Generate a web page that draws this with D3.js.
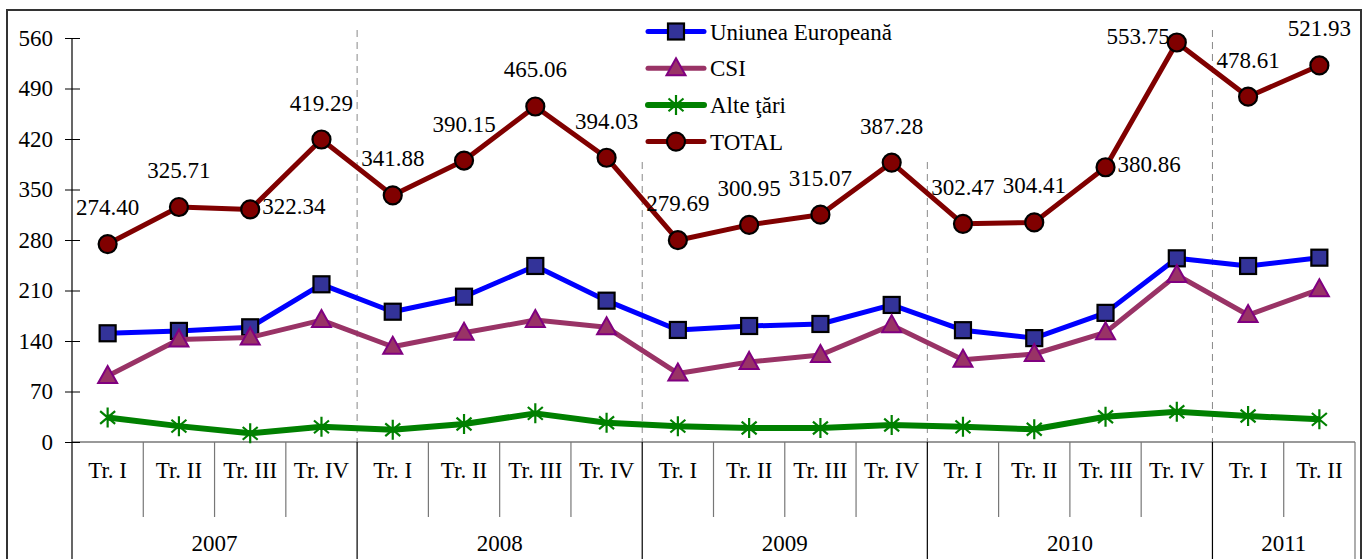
<!DOCTYPE html>
<html>
<head>
<meta charset="utf-8">
<script src="https://cdn.jsdelivr.net/npm/d3@7"></script>
<style>
  html, body { margin: 0; padding: 0; background: #fff; }
</style>
</head>
<body>
<div id="chart"></div>
<script>
const years    = ['2007', '2008', '2009', '2010', '2011'];
const quarters = ['Tr. I', 'Tr. II', 'Tr. III', 'Tr. IV'];
const periods  = [
  ['2007','Tr. I'],['2007','Tr. II'],['2007','Tr. III'],['2007','Tr. IV'],
  ['2008','Tr. I'],['2008','Tr. II'],['2008','Tr. III'],['2008','Tr. IV'],
  ['2009','Tr. I'],['2009','Tr. II'],['2009','Tr. III'],['2009','Tr. IV'],
  ['2010','Tr. I'],['2010','Tr. II'],['2010','Tr. III'],['2010','Tr. IV'],
  ['2011','Tr. I'],['2011','Tr. II']
];
const ue    = [150.7, 154, 159, 218.6, 180.6, 201.4, 244, 195.9, 155.3, 160.8, 163.6, 190, 155, 144, 179, 254.6, 244, 255.5];
const csi   = [91.5, 142, 145, 169, 132, 151.5, 169, 159, 95, 111, 120.6, 162, 114, 122, 152, 231.5, 176, 211.7];
const alte  = [34, 22, 12, 21, 17, 25, 39.7, 26.8, 22, 19.4, 19.4, 23.5, 21, 17.6, 35, 42, 36, 31.4];
const total = [274.40, 325.71, 322.34, 419.29, 341.88, 390.15, 465.06, 394.03, 279.69, 300.95, 315.07, 387.28, 302.47, 304.41, 380.86, 553.75, 478.61, 521.93];
// where each TOTAL label sits relative to its point
const totalLabelSide = ['up','up','right','up','up','up','up','up','up','up','up','up','up','up','right','left','up','up'];
const yTicks = [0, 70, 140, 210, 280, 350, 420, 490, 560];

const W = 1369, H = 559;
const plotL = 72, plotR = 1355, plotT = 38, zeroY = 442;
const fs = 23;
const FONT = '"Liberation Serif", "Times New Roman", serif';

const svg = d3.select('#chart').append('svg').attr('width', W).attr('height', H)
  .attr('font-family', FONT);

const keys = periods.map((p, i) => i);
const x = d3.scaleBand().domain(keys).range([plotL, plotR]);
const y = d3.scaleLinear().domain([0, 560]).range([zeroY, plotT]);
const cx = i => x(i) + x.bandwidth() / 2;

function txt(sel) {
  return sel.append('text').attr('font-family', FONT).attr('font-size', fs + 'px').attr('fill', '#000');
}

// outer frame
svg.append('rect').attr('x', 7).attr('y', 10).attr('width', 1354).attr('height', 600)
  .attr('fill', 'none').attr('stroke', '#333').attr('stroke-width', 2);

// year boundaries (dashed in plot area)
const yearStarts = years.map(yr => periods.findIndex(p => p[0] === yr));
yearStarts.slice(1).forEach(i => {
  svg.append('line').attr('x1', x(i)).attr('x2', x(i)).attr('y1', 30).attr('y2', zeroY)
    .attr('stroke', '#888').attr('stroke-width', 1).attr('stroke-dasharray', '7,5');
});

// legend background hides the grid behind it
svg.append('rect').attr('x', 638).attr('y', 13).attr('width', 298).attr('height', 145).attr('fill', '#fff');

// category table under the axis
svg.append('line').attr('x1', plotL).attr('x2', plotR).attr('y1', zeroY).attr('y2', zeroY)
  .attr('stroke', '#777').attr('stroke-width', 1.5);
periods.forEach((p, i) => {
  if (i === 0) return;
  const isYear = p[1] === 'Tr. I';
  svg.append('line').attr('x1', x(i)).attr('x2', x(i))
    .attr('y1', zeroY).attr('y2', isYear ? H : 517)
    .attr('stroke', isYear ? '#000' : '#777').attr('stroke-width', 1.2);
});
svg.append('line').attr('x1', plotR).attr('x2', plotR).attr('y1', zeroY).attr('y2', H)
  .attr('stroke', '#777').attr('stroke-width', 1.2);

periods.forEach((p, i) => {
  txt(svg).attr('x', cx(i)).attr('y', 478).attr('text-anchor', 'middle').text(p[1]);
});

years.forEach((yr, k) => {
  const s = yearStarts[k];
  const e = k < years.length - 1 ? yearStarts[k + 1] : periods.length;
  const x0 = x(s), x1 = e < periods.length ? x(e) : plotR;
  txt(svg).attr('x', (x0 + x1) / 2).attr('y', 551).attr('text-anchor', 'middle').text(yr);
});

// y axis
const yAxis = svg.append('g').attr('transform', `translate(${plotL},0)`)
  .call(d3.axisLeft(y).tickValues(yTicks).tickSize(7).tickPadding(12));
yAxis.attr('font-family', FONT);
yAxis.select('.domain').remove();
yAxis.selectAll('.tick line').attr('x2', 8).attr('x1', -7).attr('stroke', '#000');
yAxis.selectAll('.tick text').attr('font-size', fs + 'px')
  .attr('font-family', FONT).attr('fill', '#000');
svg.append('line').attr('x1', plotL).attr('x2', plotL).attr('y1', plotT).attr('y2', H)
  .attr('stroke', '#000').attr('stroke-width', 1.2);

// markers
function drawMarker(g, type, px, py) {
  if (type === 'square') {
    g.append('rect').attr('x', px - 8).attr('y', py - 8).attr('width', 16).attr('height', 16)
      .attr('fill', '#333399').attr('stroke', '#000').attr('stroke-width', 2.2);
  } else if (type === 'triangle') {
    g.append('path').attr('d', `M${px},${py - 10}L${px + 9.5},${py + 7}L${px - 9.5},${py + 7}Z`)
      .attr('fill', '#993366').attr('stroke', '#800080').attr('stroke-width', 2);
  } else if (type === 'star') {
    const r = 10, a = 7.5;
    g.append('path')
      .attr('d', `M${px},${py - r}L${px},${py + r}M${px - a},${py - a * 0.85}L${px + a},${py + a * 0.85}M${px - a},${py + a * 0.85}L${px + a},${py - a * 0.85}`)
      .attr('stroke', '#008000').attr('stroke-width', 2.2).attr('fill', 'none');
  } else {
    g.append('circle').attr('cx', px).attr('cy', py).attr('r', 9)
      .attr('fill', '#800000').attr('stroke', '#000').attr('stroke-width', 2.2);
  }
}

const series = [
  { name: 'Uniunea Europeană', values: ue,    color: '#0000ff', marker: 'square',   width: 5 },
  { name: 'CSI',               values: csi,   color: '#993366', marker: 'triangle', width: 5 },
  { name: 'Alte ţări',         values: alte,  color: '#008000', marker: 'star',     width: 6 },
  { name: 'TOTAL',             values: total, color: '#800000', marker: 'circle',   width: 5 }
];

const line = d3.line().x((d, i) => cx(i)).y(d => y(d));

series.forEach(s => {
  const g = svg.append('g');
  g.append('path').datum(s.values).attr('d', line)
    .attr('fill', 'none').attr('stroke', s.color).attr('stroke-width', s.width)
    .attr('stroke-linejoin', 'round');
  s.values.forEach((v, i) => drawMarker(g, s.marker, cx(i), y(v)));
});

// legend
const lg = svg.append('g');
series.forEach((s, k) => {
  const ly = 31.5 + k * 36.7;
  lg.append('line').attr('x1', 648).attr('x2', 704).attr('y1', ly).attr('y2', ly)
    .attr('stroke', s.color).attr('stroke-width', s.width).attr('stroke-linecap', 'round');
  drawMarker(lg, s.marker, 676, ly);
  txt(lg).attr('x', 710).attr('y', ly + 8).text(s.name);
});

// TOTAL value labels
total.forEach((v, i) => {
  const px = cx(i), py = y(v), side = totalLabelSide[i];
  const t = txt(svg).text(v.toFixed(2));
  if (side === 'up') {
    t.attr('x', px).attr('y', py - 29).attr('text-anchor', 'middle');
  } else if (side === 'right') {
    t.attr('x', px + 12).attr('y', py + 5).attr('text-anchor', 'start');
  } else {
    t.attr('x', px - 7).attr('y', py + 1).attr('text-anchor', 'end');
  }
});
</script>
</body>
</html>
